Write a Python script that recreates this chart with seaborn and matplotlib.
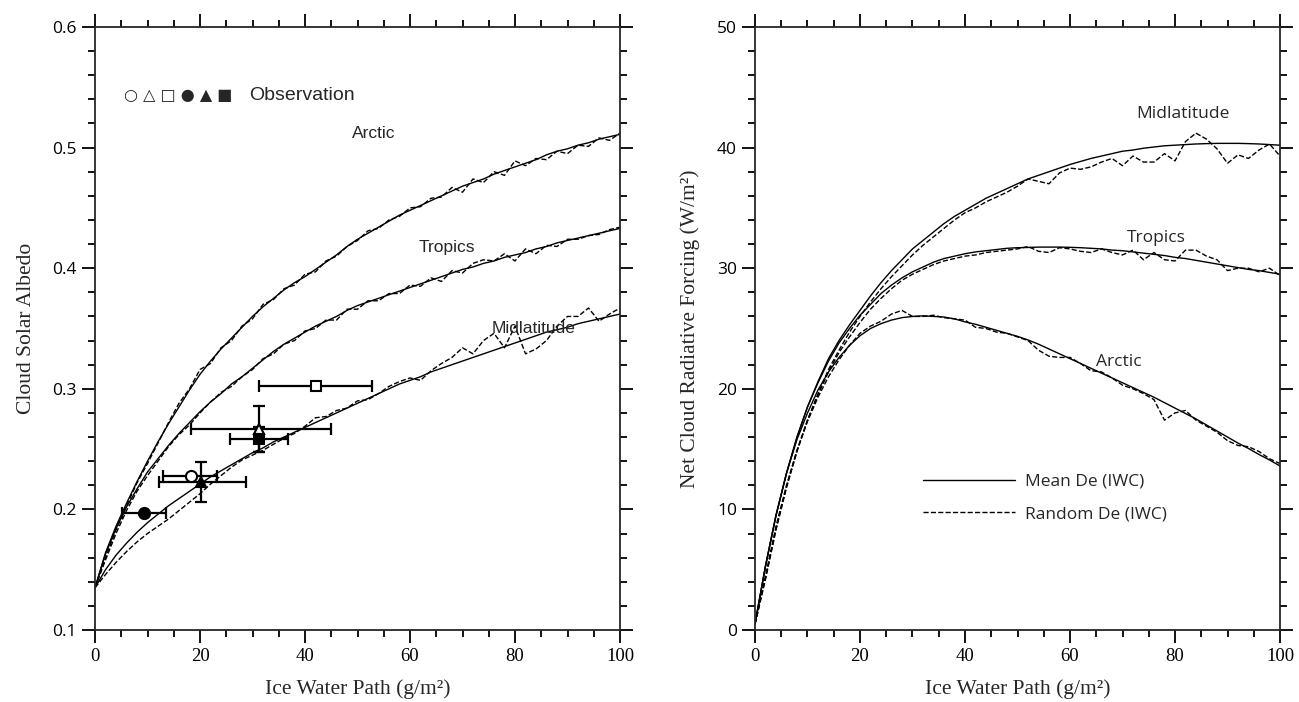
import numpy as np
import pandas as pd
import matplotlib
matplotlib.use("Agg")
import matplotlib.pyplot as plt
from matplotlib.ticker import MultipleLocator
import seaborn as sns

# ---------------- data ----------------
iwp_solid = [0, 2, 4, 6, 8, 10, 12, 14, 16, 18, 20, 22, 24, 26, 28, 30, 32, 34, 36, 38, 40,
             42, 44, 46, 48, 50, 52, 54, 56, 58, 60, 62, 64, 66, 68, 70, 72, 74, 76, 78, 80,
             82, 84, 86, 88, 90, 92, 94, 96, 98, 100]
iwp_dash = iwp_solid

# Left panel: cloud solar albedo
alb_arctic_mean = [.135, .164, .186, .205, .223, .240, .256, .271, .285, .299, .312, .323, .333, .342, .351,
                   .360, .368, .375, .382, .388, .393, .399, .405, .411, .418, .424, .429, .434, .439, .444,
                   .448, .452, .456, .460, .464, .468, .471, .474, .478, .481, .484, .487, .490, .494, .497,
                   .499, .502, .504, .507, .509, .511]
alb_arctic_rand = [.135, .160, .183, .203, .222, .238, .255, .272, .288, .300, .316, .321, .334, .340, .352,
                   .358, .370, .374, .383, .386, .395, .397, .406, .410, .418, .423, .431, .433, .440, .443,
                   .450, .451, .458, .459, .467, .463, .474, .471, .480, .477, .489, .485, .491, .490, .497,
                   .495, .502, .501, .508, .506, .512]
alb_tropics_mean = [.135, .163, .184, .202, .217, .231, .242, .253, .263, .272, .281, .289, .296, .304, .310,
                    .317, .324, .331, .337, .342, .347, .352, .356, .360, .365, .369, .372, .375, .378, .381,
                    .384, .387, .390, .393, .396, .399, .401, .404, .406, .409, .411, .413, .416, .418, .421,
                    .423, .425, .427, .429, .431, .433]
alb_tropics_rand = [.135, .158, .180, .199, .215, .228, .240, .252, .262, .270, .280, .289, .297, .302, .310,
                    .316, .325, .329, .337, .340, .348, .350, .357, .357, .366, .366, .373, .373, .379, .379,
                    .386, .385, .392, .389, .398, .396, .404, .407, .406, .412, .406, .416, .412, .419, .418,
                    .424, .424, .427, .428, .432, .434]
alb_midlat_mean = [.135, .150, .162, .172, .181, .189, .196, .203, .209, .215, .221, .227, .232, .237, .242,
                   .247, .251, .256, .260, .264, .268, .272, .276, .280, .284, .288, .292, .296, .300, .304,
                   .307, .310, .314, .317, .320, .323, .326, .329, .332, .335, .338, .341, .344, .347, .349,
                   .351, .354, .356, .358, .360, .362]
alb_midlat_rand = [.135, .146, .156, .165, .173, .180, .186, .192, .199, .206, .213, .221, .228, .235, .241,
                   .245, .249, .254, .259, .263, .269, .276, .277, .282, .284, .290, .291, .296, .302, .306,
                   .309, .307, .315, .321, .326, .334, .329, .340, .346, .334, .352, .329, .333, .340, .352,
                   .360, .360, .367, .356, .362, .367]

# Observations
obs_iwp = [18.2, 31.3, 42.1, 9.3, 20.2, 31.2]
obs_alb = [0.228, 0.267, 0.3025, 0.197, 0.2226, 0.258]
obs_iwp_lo = [12.9, 18.2, 31.2, 5.1, 12.1, 25.7]
obs_iwp_hi = [23.2, 45.0, 52.7, 13.5, 28.8, 36.8]
obs_alb_err = [0.0, 0.019, 0.0, 0.0, 0.0165, 0.010]
obs_marker = ['o', '^', 's', 'o', '^', 's']
obs_filled = [False, False, False, True, True, True]

# Right panel: net cloud radiative forcing
ncrf_midlat_mean = [0.5, 5.3, 9.5, 13.0, 16.0, 18.5, 20.6, 22.5, 24.0, 25.3, 26.5, 27.7, 28.8, 29.8, 30.7,
                    31.6, 32.3, 33.0, 33.7, 34.3, 34.8, 35.3, 35.8, 36.2, 36.6, 37.0, 37.4, 37.7, 38.0, 38.3,
                    38.6, 38.85, 39.1, 39.3, 39.5, 39.7, 39.8, 39.95, 40.05, 40.15, 40.2, 40.25, 40.3, 40.33,
                    40.35, 40.35, 40.35, 40.33, 40.3, 40.25, 40.2]
ncrf_midlat_rand = [0.5, 4.2, 8.3, 11.8, 14.8, 17.4, 19.6, 21.6, 23.2, 24.7, 26.0, 27.2, 28.3, 29.3, 30.2,
                    31.1, 31.9, 32.6, 33.3, 34.0, 34.6, 35.0, 35.5, 35.9, 36.3, 36.8, 37.4, 37.2, 37.0, 37.9,
                    38.3, 38.2, 38.4, 38.8, 39.1, 38.5, 39.3, 38.8, 38.8, 39.5, 38.9, 40.5, 41.2, 40.7, 39.9,
                    38.7, 39.4, 39.1, 39.8, 40.3, 39.3]
ncrf_tropics_mean = [0.5, 5.3, 9.5, 13.0, 16.0, 18.5, 20.5, 22.3, 23.8, 25.0, 26.1, 27.0, 27.9, 28.6, 29.2,
                     29.7, 30.1, 30.5, 30.8, 31.0, 31.2, 31.35, 31.45, 31.55, 31.65, 31.7, 31.72, 31.75, 31.75,
                     31.75, 31.73, 31.7, 31.65, 31.6, 31.5, 31.45, 31.35, 31.25, 31.15, 31.05, 30.9, 30.8,
                     30.65, 30.5, 30.35, 30.2, 30.05, 29.9, 29.8, 29.65, 29.5]
ncrf_tropics_rand = [0.5, 4.3, 8.4, 11.9, 14.9, 17.4, 19.5, 21.4, 23.0, 24.3, 25.5, 26.6, 27.5, 28.3, 29.0,
                     29.5, 29.9, 30.3, 30.6, 30.8, 31.0, 31.1, 31.3, 31.4, 31.5, 31.6, 31.8, 31.4, 31.3, 31.7,
                     31.6, 31.4, 31.3, 31.6, 31.3, 31.1, 31.5, 30.7, 31.3, 30.7, 30.6, 31.5, 31.5, 31.0, 30.7,
                     29.8, 30.0, 30.0, 29.7, 30.0, 29.4]
ncrf_arctic_mean = [0.5, 5.3, 9.5, 13.0, 15.8, 18.0, 19.9, 21.4, 22.6, 23.6, 24.4, 25.0, 25.4, 25.7, 25.9,
                    26.0, 26.05, 26.0, 25.95, 25.8, 25.55, 25.35, 25.1, 24.85, 24.6, 24.35, 24.05, 23.7, 23.3,
                    22.9, 22.5, 22.1, 21.7, 21.3, 20.9, 20.5, 20.1, 19.7, 19.3, 18.85, 18.4, 17.95, 17.5,
                    17.0, 16.5, 16.0, 15.5, 15.05, 14.55, 14.1, 13.6]
ncrf_arctic_rand = [0.5, 4.5, 8.6, 12.0, 14.9, 17.3, 19.3, 21.0, 22.4, 23.6, 24.6, 25.2, 25.6, 26.2, 26.5,
                    26.0, 26.0, 26.1, 25.9, 25.8, 25.7, 25.1, 25.0, 24.7, 24.6, 24.3, 24.0, 23.2, 22.7, 22.6,
                    22.6, 22.1, 21.5, 21.4, 20.9, 20.3, 20.0, 19.6, 19.1, 17.4, 18.0, 18.2, 17.4, 16.9, 16.4,
                    15.7, 15.3, 15.2, 14.8, 14.2, 13.8]

left_labels = [("Arctic", 53.0, 0.512), ("Tropics", 67.0, 0.417), ("Midlatitude", 83.5, 0.350)]
right_labels = [("Midlatitude", 81.5, 42.8), ("Tropics", 76.5, 32.5), ("Arctic", 69.3, 22.2)]

# ---------------- figure ----------------
sns.set_style("ticks")
plt.rcParams['font.family'] = ['DejaVu Sans']
plt.rcParams['axes.linewidth'] = 1.3

fig = plt.figure(figsize=(12.99, 7.02), dpi=100)
axL = fig.add_axes([95 / 1299, 72 / 702, 525 / 1299, 603 / 702])
axR = fig.add_axes([755 / 1299, 72 / 702, 525 / 1299, 603 / 702])

lw = 1.0
dash = (6, 4)

curvesL = [(alb_arctic_mean, alb_arctic_rand), (alb_tropics_mean, alb_tropics_rand),
           (alb_midlat_mean, alb_midlat_rand)]
for mean, rand in curvesL:
    sns.lineplot(x=iwp_solid, y=mean, ax=axL, color='black', lw=lw)
    sns.lineplot(x=iwp_dash, y=rand, ax=axL, color='black', lw=lw, dashes=dash, linestyle='--')

for i in range(len(obs_iwp)):
    xe = [[obs_iwp[i] - obs_iwp_lo[i]], [obs_iwp_hi[i] - obs_iwp[i]]]
    ye = [[obs_alb_err[i]], [obs_alb_err[i]]] if obs_alb_err[i] > 0 else None
    axL.errorbar([obs_iwp[i]], [obs_alb[i]], xerr=xe, yerr=ye, fmt='none', ecolor='black',
                 elinewidth=1.6, capsize=4, capthick=1.6, zorder=3)
    axL.plot([obs_iwp[i]], [obs_alb[i]], marker=obs_marker[i], ms=8 if obs_marker[i] == 'o' else 7,
             mfc='black' if obs_filled[i] else 'white', mec='black', mew=1.5, ls='none', zorder=4)

axL.text(5.6, 0.543, "○ △ □ ● ▲ ■", fontsize=11.5, family='DejaVu Sans', va='center', ha='left')
axL.text(29.3, 0.543, "Observation", fontsize=14, family='Liberation Sans', va='center', ha='left')
for t, x, y in left_labels:
    axL.text(x, y, t, fontsize=12.5, family='Liberation Sans', ha='center', va='center')

curvesR = [(ncrf_midlat_mean, ncrf_midlat_rand), (ncrf_tropics_mean, ncrf_tropics_rand),
           (ncrf_arctic_mean, ncrf_arctic_rand)]
for k, (mean, rand) in enumerate(curvesR):
    sns.lineplot(x=iwp_solid, y=mean, ax=axR, color='black', lw=lw,
                 label="Mean De (IWC)" if k == 0 else None)
    sns.lineplot(x=iwp_dash, y=rand, ax=axR, color='black', lw=lw, dashes=dash, linestyle='--',
                 label="Random De (IWC)" if k == 0 else None)
for t, x, y in right_labels:
    axR.text(x, y, t, fontsize=12.5, family='Open Sans', ha='center', va='center')

leg = axR.legend(loc='upper left', bbox_to_anchor=(0.29, 0.285), frameon=False, handlelength=5.3,
                 prop={'family': 'Open Sans', 'size': 12.5}, labelspacing=0.95, handletextpad=0.6)

# ---------------- axes styling ----------------
def style(ax, ylim, ymaj, ymin, ylabel, yfmt, yfamily):
    ax.set_xlim(0, 100)
    ax.set_ylim(*ylim)
    ax.xaxis.set_major_locator(MultipleLocator(20))
    ax.xaxis.set_minor_locator(MultipleLocator(5))
    ax.yaxis.set_major_locator(MultipleLocator(ymaj))
    ax.yaxis.set_minor_locator(MultipleLocator(ymin))
    ax.tick_params(which='both', direction='out', top=True, right=True, bottom=True, left=True,
                   colors='black', width=1.3)
    ax.tick_params(which='major', length=9.5)
    ax.tick_params(which='minor', length=5)
    ax.set_xticks([0, 20, 40, 60, 80, 100])
    ax.set_xticklabels(['0', '20', '40', '60', '80', '100'], family='Liberation Serif', fontsize=13.5)
    ticks = np.arange(ylim[0], ylim[1] + ymaj / 2, ymaj)
    ax.set_yticks(ticks)
    ax.set_yticklabels([yfmt(t) for t in ticks], family=yfamily, fontsize=12.5)
    ax.set_xlabel("Ice Water Path (g/m²)", family='Liberation Serif', fontsize=15.5, labelpad=10)
    ax.set_ylabel(ylabel, family='Liberation Serif', fontsize=15.5, labelpad=12)
    for s in ax.spines.values():
        s.set_visible(True)
        s.set_linewidth(1.3)

style(axL, (0.1, 0.6), 0.1, 0.02, "Cloud Solar Albedo", lambda t: f"{t:.1f}", 'Open Sans')
style(axR, (0, 50), 10, 2, "Net Cloud Radiative Forcing (W/m²)", lambda t: f"{t:.0f}", 'Open Sans')

fig.savefig("out.png", dpi=100)
